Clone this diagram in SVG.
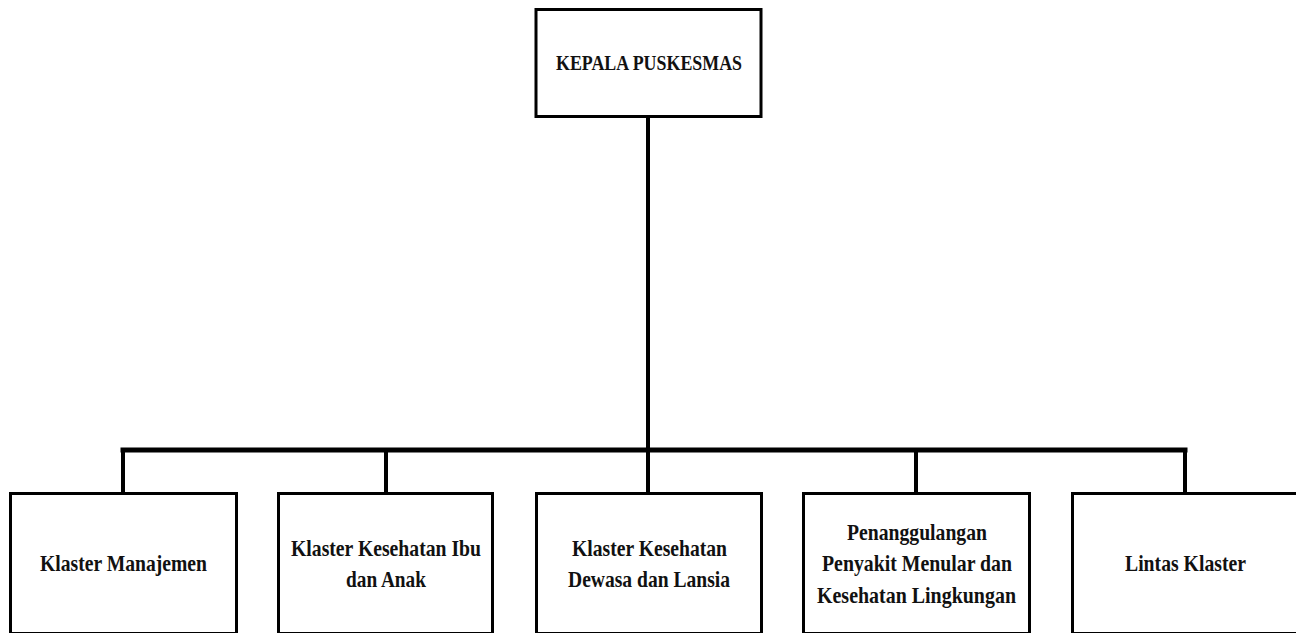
<svg xmlns="http://www.w3.org/2000/svg" width="1296" height="633" viewBox="0 0 1296 633">
<style>
.box{fill:#fff;stroke:#000;stroke-width:3}
.t{font-family:"Liberation Serif","Times New Roman",serif;font-weight:bold;font-size:23px;fill:#111;text-anchor:middle}
.c{fill:none;stroke:#000;stroke-linecap:square}
</style>
<rect width="1296" height="633" fill="#fff"/>
<g id="connectors">
<line class="c" x1="648" y1="117" x2="648" y2="450" stroke-width="4"/>
<line class="c" x1="123" y1="450" x2="1185" y2="450" stroke-width="5"/>
<line class="c" x1="123" y1="450" x2="123" y2="492" stroke-width="4"/>
<line class="c" x1="386" y1="450" x2="386" y2="492" stroke-width="4"/>
<line class="c" x1="648" y1="450" x2="648" y2="492" stroke-width="4"/>
<line class="c" x1="916" y1="450" x2="916" y2="492" stroke-width="4"/>
<line class="c" x1="1185" y1="450" x2="1185" y2="492" stroke-width="4"/>
</g>
<g id="kepala">
<rect class="box" x="536" y="9.5" width="225" height="107"/>
<text class="t" x="649" y="70" textLength="186" lengthAdjust="spacingAndGlyphs" style="font-size:21px">KEPALA PUSKESMAS</text>
</g>
<g id="manajemen">
<rect class="box" x="10.5" y="493.5" width="226" height="140"/>
<text class="t" x="123.5" y="571" textLength="167" lengthAdjust="spacingAndGlyphs">Klaster Manajemen</text>
</g>
<g id="ibu-anak">
<rect class="box" x="278.5" y="493.5" width="214" height="140"/>
<text class="t" x="386" y="556" textLength="190" lengthAdjust="spacingAndGlyphs">Klaster Kesehatan Ibu</text>
<text class="t" x="386" y="587" textLength="80" lengthAdjust="spacingAndGlyphs">dan Anak</text>
</g>
<g id="dewasa-lansia">
<rect class="box" x="536.5" y="493.5" width="225" height="140"/>
<text class="t" x="649.5" y="556" textLength="155" lengthAdjust="spacingAndGlyphs">Klaster Kesehatan</text>
<text class="t" x="649" y="587" textLength="162" lengthAdjust="spacingAndGlyphs">Dewasa dan Lansia</text>
</g>
<g id="p2m">
<rect class="box" x="803.5" y="493.5" width="226" height="140"/>
<text class="t" x="917" y="540" textLength="140" lengthAdjust="spacingAndGlyphs">Penanggulangan</text>
<text class="t" x="917" y="571" textLength="190" lengthAdjust="spacingAndGlyphs">Penyakit Menular dan</text>
<text class="t" x="916.5" y="603" textLength="199" lengthAdjust="spacingAndGlyphs">Kesehatan Lingkungan</text>
</g>
<g id="lintas">
<rect class="box" x="1072.5" y="493.5" width="230" height="140"/>
<text class="t" x="1185.5" y="571" textLength="121" lengthAdjust="spacingAndGlyphs">Lintas Klaster</text>
</g>
</svg>
